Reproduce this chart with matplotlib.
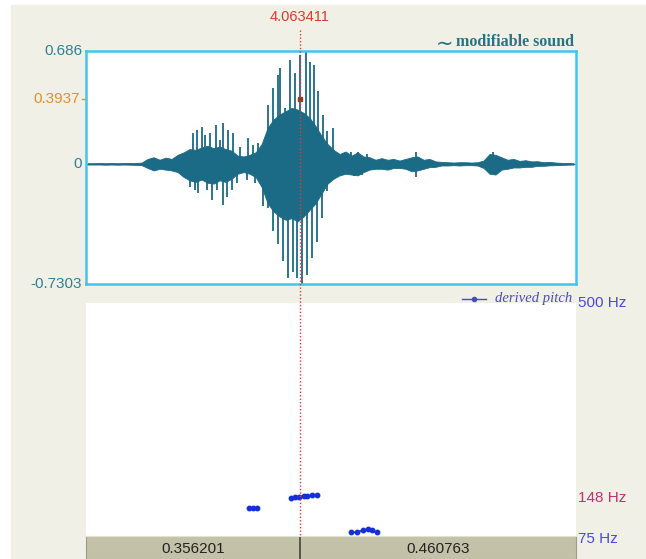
import numpy as np
import matplotlib
matplotlib.use("Agg")
import matplotlib.pyplot as plt
from matplotlib.patches import Rectangle

# time window (s) and cursor
t_start = 3.70721
t_end = 4.524174
cursor_t = 4.063411
cursor_amp = 0.3937
left_len = "0.356201"
right_len = "0.460763"

# waveform: dense body envelope, one value every 10 ms
env_t0 = 3.710
env_step = 0.010
env_hi = [0.004, 0.004, 0.005, 0.004, 0.005, 0.004, 0.005, 0.006, 0.005, 0.008,
          0.030, 0.040, 0.025, 0.038, 0.030, 0.055, 0.070, 0.090, 0.085, 0.100,
          0.110, 0.095, 0.105, 0.090, 0.080, 0.050, 0.045, 0.055, 0.070, 0.120,
          0.220, 0.270, 0.300, 0.320, 0.340, 0.330, 0.310, 0.280, 0.230, 0.170,
          0.120, 0.085, 0.060, 0.075, 0.050, 0.070, 0.045, 0.040, 0.025, 0.035,
          0.025, 0.030, 0.020, 0.030, 0.040, 0.045, 0.025, 0.030, 0.015, 0.012,
          0.010, 0.008, 0.010, 0.010, 0.008, 0.010, 0.020, 0.060, 0.055, 0.040,
          0.025, 0.030, 0.018, 0.022, 0.015, 0.016, 0.010, 0.012, 0.008, 0.006,
          0.005, 0.004]
env_lo = [0.004, 0.004, 0.004, 0.005, 0.004, 0.005, 0.004, 0.005, 0.006, 0.008,
          0.025, 0.040, 0.030, 0.035, 0.040, 0.050, 0.080, 0.100, 0.110, 0.095,
          0.115, 0.120, 0.100, 0.110, 0.090, 0.060, 0.050, 0.060, 0.080, 0.140,
          0.240, 0.290, 0.320, 0.340, 0.330, 0.350, 0.320, 0.280, 0.240, 0.180,
          0.120, 0.090, 0.070, 0.060, 0.065, 0.070, 0.050, 0.035, 0.030, 0.030,
          0.035, 0.025, 0.025, 0.030, 0.045, 0.040, 0.030, 0.020, 0.018, 0.010,
          0.010, 0.008, 0.010, 0.008, 0.008, 0.010, 0.025, 0.060, 0.065, 0.035,
          0.030, 0.022, 0.022, 0.018, 0.018, 0.012, 0.012, 0.009, 0.008, 0.006,
          0.005, 0.004]

# single strokes above zero
up_t = [3.8861, 3.8928, 3.9001, 3.9056, 3.9140, 3.9240, 3.9306, 3.9361, 3.9445,
        3.9528, 3.9640, 3.9778, 3.9862, 3.9945,
        4.0112, 4.0195, 4.0278, 4.0307, 4.0390, 4.0473, 4.0557, 4.0634, 4.0735,
        4.0807, 4.0879, 4.0945, 4.1029, 4.1085, 4.1195,
        4.1495, 4.1607, 4.1750, 4.2574, 4.3858]
up_a = [0.186, 0.207, 0.227, 0.176, 0.186, 0.237, 0.146, 0.247, 0.207,
        0.186, 0.105, 0.156, 0.115, 0.126,
        0.359, 0.460, 0.541, 0.582, 0.338, 0.632, 0.551, 0.660, 0.686,
        0.622, 0.602, 0.440, 0.300, 0.200, 0.220,
        0.070, 0.075, 0.060, 0.075, 0.075]

# single strokes below zero
dn_t = [3.8806, 3.8890, 3.8945, 3.9085, 3.9168, 3.9261, 3.9361, 3.9428, 3.9501,
        3.9585, 3.9751, 3.9890, 4.0028,
        4.0112, 4.0195, 4.0278, 4.0362, 4.0445, 4.0528, 4.0585, 4.0669, 4.0752,
        4.0835, 4.0919, 4.1002, 4.1085,
        4.1540, 4.1680, 4.2574, 4.3858]
dn_a = [0.138, 0.158, 0.178, 0.158, 0.219, 0.158, 0.249, 0.199, 0.158,
        0.118, 0.097, 0.118, 0.259,
        0.270, 0.410, 0.490, 0.590, 0.695, 0.655, 0.695, 0.7303, 0.675,
        0.573, 0.472, 0.330, 0.168,
        0.075, 0.070, 0.080, 0.060]

# derived pitch (Hz), three voiced stretches
pitch_t = [[3.9790, 3.9852, 3.9918],
           [4.0485, 4.0552, 4.0619, 4.0707, 4.0762, 4.0840, 4.0919],
           [4.1485, 4.1585, 4.1696, 4.1779, 4.1836, 4.1919]]
pitch_f = [[131, 131, 130],
           [149, 150.5, 151, 152, 153, 153.5, 153.5],
           [87, 87, 91, 92.5, 91, 87]]

amp_top, amp_bot = 0.686, -0.7303
f_top, f_mid, f_bot = 500, 148, 75

teal = "#1b6a86"
lab_teal = "#2f8095"
cyan = "#3ec6ee"
beige = "#f1f0e7"
bar_col = "#c3c2a9"
pitch_blue = "#1630d8"

W, H = 646, 559
fig = plt.figure(figsize=(W / 100, H / 100), dpi=100, facecolor="white")
fig.patches.append(Rectangle((11 / W, 0), 1 - 11 / W, 1 - 5 / H,
                             transform=fig.transFigure, color=beige, zorder=-10))

L, Wd = 86 / W, 490 / W

# --- waveform panel
ax = fig.add_axes([L, 1 - 284 / H, Wd, 233 / H])
ax.set_facecolor("white")
env_t = env_t0 + env_step * np.arange(len(env_hi))
ax.fill_between(env_t, -np.array(env_lo), env_hi, color=teal, lw=0.6)
ax.vlines(up_t, 0, up_a, color=teal, lw=1.3)
ax.vlines(dn_t, -np.array(dn_a), 0, color=teal, lw=1.3)
ax.plot([t_start, t_end], [0, 0], color=teal, lw=0.8)
ax.plot(cursor_t, cursor_amp, marker="s", ms=3, color="#8a3a20", zorder=5)
ax.set_xlim(t_start, t_end)
ax.set_ylim(amp_bot, amp_top)
ax.set_xticks([])
ax.set_yticks([])
for s in ax.spines.values():
    s.set_color(cyan)
    s.set_linewidth(1.8)
ytr = ax.get_yaxis_transform()
ax.text(-0.008, amp_top, "0.686", transform=ytr, ha="right", va="center",
        fontsize=11, color=lab_teal, family="Liberation Sans")
ax.text(-0.008, 0, "0", transform=ytr, ha="right", va="center",
        fontsize=11, color=lab_teal, family="Liberation Sans")
ax.text(-0.008, amp_bot, "-0.7303", transform=ytr, ha="right", va="center",
        fontsize=11, color=lab_teal, family="Liberation Sans")
ax.text(-0.012, cursor_amp, "0.3937", transform=ytr, ha="right", va="center",
        fontsize=11, color="#e0902c", family="Liberation Sans")
ax.plot([-0.009, 0], [cursor_amp, cursor_amp], transform=ytr, color="#e0902c",
        lw=1, clip_on=False)
ax.text(0.995, 1.004, "modifiable sound", transform=ax.transAxes,
        ha="right", va="bottom", fontsize=11.5, weight="bold", color="#2a7283",
        family="Liberation Serif")
ax.text(0.750, 1.030, "∼", transform=ax.transAxes, ha="right", va="center",
        fontsize=15, color="#2a7283", family=["DejaVu Sans"])

# --- pitch panel
ax2 = fig.add_axes([L, 1 - 539 / H, Wd, 236 / H])
ax2.set_facecolor("white")
for tt, ff in zip(pitch_t, pitch_f):
    ax2.plot(tt, ff, color=pitch_blue, marker="o", ms=3.2, lw=1.2)
ax2.set_xlim(t_start, t_end)
ax2.set_ylim(f_bot, f_top)
ax2.set_xticks([])
ax2.set_yticks([])
for s in ax2.spines.values():
    s.set_visible(False)
ptr = ax2.get_yaxis_transform()
ax2.text(1.004, f_top, "500 Hz", transform=ptr, ha="left", va="center",
         fontsize=11, color="#4a4ad6", family="Liberation Sans")
ax2.text(1.004, f_mid, "148 Hz", transform=ptr, ha="left", va="center",
         fontsize=11, color="#c2306e", family="Liberation Sans")
ax2.text(1.004, f_bot, "75 Hz", transform=ptr, ha="left", va="center",
         fontsize=11, color="#4848e0", family="Liberation Sans")
ax2.text(0.993, 1.018, "derived pitch", transform=ax2.transAxes, ha="right",
         va="center", fontsize=10.5, style="italic", color="#4a4ac0",
         family="Liberation Serif")
ax2.plot([0.768, 0.817], [1.018, 1.018], transform=ax2.transAxes,
         color="#4a4ac0", lw=1, clip_on=False)
ax2.plot([0.792], [1.018], transform=ax2.transAxes, marker="o", ms=3,
         color="#4a4ac0", clip_on=False)

# --- duration bar
ax3 = fig.add_axes([L, 0, Wd, 23 / H])
ax3.set_facecolor(bar_col)
ax3.set_xlim(t_start, t_end)
ax3.set_ylim(0, 1)
ax3.set_xticks([])
ax3.set_yticks([])
for s in ax3.spines.values():
    s.set_color("#9c9b86")
    s.set_linewidth(0.8)
ax3.spines["top"].set_color("#e2e1d2")
ax3.axvline(cursor_t, color="#444438", lw=1.2)
ax3.text((t_start + cursor_t) / 2, 0.45, left_len, ha="center", va="center",
         fontsize=11, color="#222222", family="Liberation Sans")
ax3.text((cursor_t + t_end) / 2, 0.45, right_len, ha="center", va="center",
         fontsize=11, color="#222222", family="Liberation Sans")

# --- cursor across panels
axo = fig.add_axes([L, 0, Wd, 1])
axo.set_xlim(t_start, t_end)
axo.set_ylim(H, 0)
axo.axis("off")
axo.vlines(cursor_t, 30, 536, colors="#e03c34", lw=1, linestyles=(0, (1, 1.5)))
axo.text(cursor_t, 17, "4.063411", ha="center", va="center", fontsize=10.5,
         color="#e03a2c", family="Liberation Sans")

fig.savefig("out.png", dpi=100, facecolor=fig.get_facecolor())
